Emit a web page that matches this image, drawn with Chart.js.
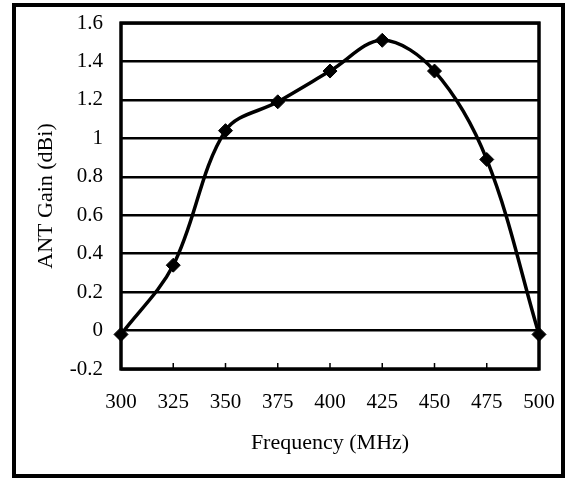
<!DOCTYPE html>
<html>
<head>
<meta charset="utf-8">
<script src="https://cdn.jsdelivr.net/npm/chart.js@4/dist/chart.umd.min.js"></script>
<style>
  html, body { margin: 0; padding: 0; background: #fff; }
  #wrap { position: relative; width: 566px; height: 479px; }
  #frame { position: absolute; left: 12px; top: 3px; width: 553px; height: 475px; box-sizing: border-box; border: 4px solid #000; pointer-events: none; }
  canvas { position: absolute; left: 0; top: 0; }
</style>
</head>
<body>
<div id="wrap">
  <canvas id="c" width="566" height="479"></canvas>
  <div id="frame"></div>
</div>
<script>
const categories = ['300', '325', '350', '375', '400', '425', '450', '475', '500'];
const gainValues = [-0.02, 0.34, 1.04, 1.19, 1.35, 1.51, 1.35, 0.89, -0.02];
const yTickValues = [-0.2, 0, 0.2, 0.4, 0.6, 0.8, 1, 1.2, 1.4, 1.6];
const yTickLabels = ['-0.2', '0', '0.2', '0.4', '0.6', '0.8', '1', '1.2', '1.4', '1.6'];
const xTitle = 'Frequency (MHz)';
const yTitle = 'ANT Gain (dBi)';

const FONT = '"Liberation Serif", "Times New Roman", serif';

const framePlugin = {
  id: 'plotFrame',
  beforeDatasetsDraw(chart) {
    const { ctx, chartArea: a } = chart;
    ctx.save();
    ctx.strokeStyle = '#000';
    ctx.lineWidth = 3;
    ctx.strokeRect(a.left, a.top, a.right - a.left, a.bottom - a.top);
    ctx.restore();
  },
  afterDatasetsDraw(chart) {
    const { ctx, chartArea: a, scales: { x } } = chart;
    ctx.save();
    ctx.strokeStyle = '#000';
    ctx.lineWidth = 1.5;
    ctx.beginPath();
    x.ticks.forEach((t, i) => {
      const px = x.getPixelForTick(i);
      ctx.moveTo(px, a.bottom);
      ctx.lineTo(px, a.bottom - 6);
    });
    ctx.stroke();
    ctx.lineWidth = 3;
    ctx.strokeRect(a.left, a.top, a.right - a.left, a.bottom - a.top);
    ctx.restore();
  }
};

new Chart(document.getElementById('c'), {
  type: 'line',
  data: {
    labels: categories,
    datasets: [{
      data: gainValues,
      borderColor: '#000',
      backgroundColor: '#000',
      borderWidth: 3.5,
      tension: 0.35,
      pointStyle: 'rectRot',
      pointRadius: 7,
      pointBackgroundColor: '#000',
      pointBorderColor: '#000',
      pointBorderWidth: 1,
      clip: false
    }]
  },
  options: {
    responsive: false,
    animation: false,
    devicePixelRatio: 1,
    layout: { padding: { left: 0, right: 27, top: 23, bottom: 0 } },
    plugins: { legend: { display: false }, tooltip: { enabled: false } },
    scales: {
      x: {
        type: 'category',
        offset: false,
        grid: { display: false, drawTicks: false },
        border: { display: false },
        ticks: { color: '#000', font: { family: FONT, size: 21 }, padding: 21, maxRotation: 0, autoSkip: false },
        title: { display: true, text: xTitle, color: '#000', font: { family: FONT, size: 22 }, padding: { top: 0, bottom: 23 } },
        afterFit(scale) { scale.height = 110; scale.paddingLeft = 0; scale.paddingRight = 0; }
      },
      y: {
        min: -0.2,
        max: 1.6,
        grid: { color: '#000', lineWidth: 2.5, drawTicks: false },
        border: { display: false },
        afterBuildTicks(scale) { scale.ticks = yTickValues.map(v => ({ value: v })); },
        ticks: {
          color: '#000', font: { family: FONT, size: 21 }, padding: 18,
          callback: (v, i) => yTickLabels[i]
        },
        title: { display: true, text: yTitle, color: '#000', font: { family: FONT, size: 22 }, padding: { top: 33, bottom: 0 } },
        afterFit(scale) { scale.width = 121; scale.paddingTop = 0; scale.paddingBottom = 0; }
      }
    }
  },
  plugins: [framePlugin]
});
</script>
</body>
</html>
